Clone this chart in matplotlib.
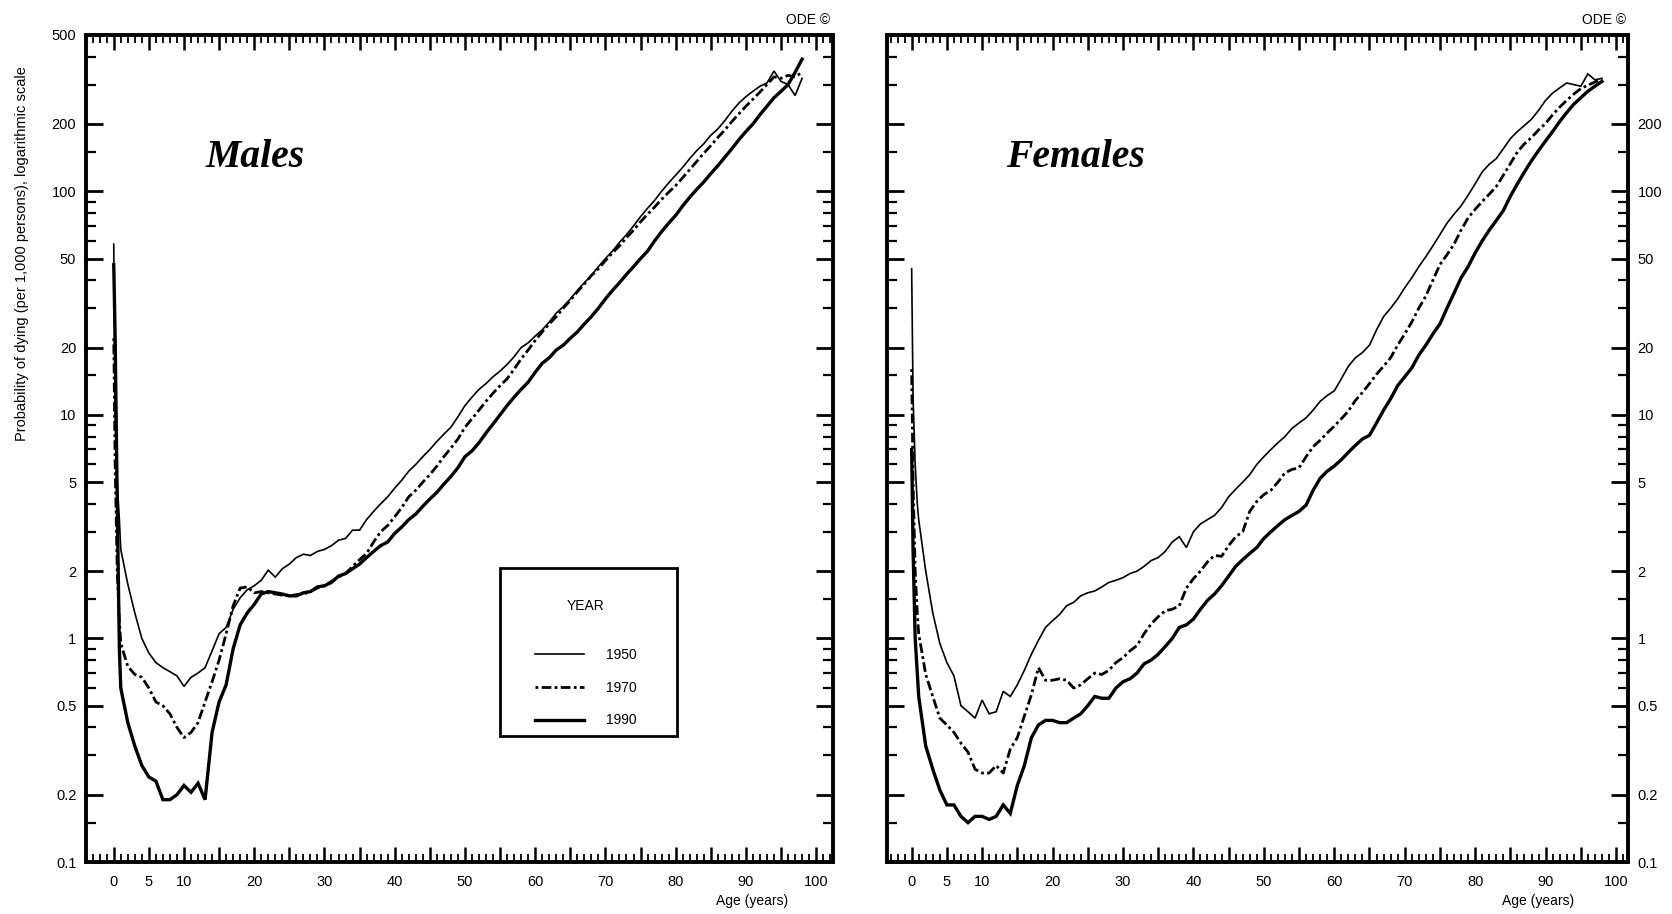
import matplotlib
matplotlib.use('Agg')
import matplotlib.pyplot as plt
from matplotlib.patches import Rectangle
from matplotlib.ticker import FixedLocator, FixedFormatter, NullFormatter

plt.rcParams['font.family'] = ['Liberation Sans', 'DejaVu Sans']

# idades: primeiros meses e depois anos completos
ages = [0, 0.2, 0.5, 0.8] + list(range(1, 99))

# Males, probabilidade de morrer por 1000
male_1950 = [58, 10, 5, 3.4,
             2.5, 1.75, 1.3, 1.0, 0.86, 0.78, 0.74, 0.71, 0.68, 0.61,
             0.67, 0.70, 0.74, 0.88, 1.05, 1.12, 1.35, 1.52, 1.65, 1.72,
             1.82, 2.02, 1.88, 2.05, 2.15, 2.3, 2.38, 2.35, 2.45, 2.5,
             2.6, 2.75, 2.8, 3.05, 3.05, 3.4, 3.7, 4.0, 4.3, 4.7,
             5.1, 5.6, 6.0, 6.5, 7.0, 7.6, 8.2, 8.8, 9.8, 11.0,
             12.0, 13.0, 13.8, 14.8, 15.7, 16.8, 18.2, 20.0, 21.0, 22.5,
             24.0, 26.0, 28.5, 30.5, 33.0, 36.0, 39.0, 42.0, 46.0, 50.0,
             54.0, 59.0, 64.0, 70.0, 77.0, 84.0, 91.0, 100.0, 109.0, 118.0,
             128.0, 140.0, 152.0, 163.0, 178.0, 190.0, 207.0, 228.0, 248.0, 265.0,
             280.0, 295.0, 305.0, 345.0, 310.0, 300.0, 268.0, 320.0]
male_1970 = [22, 6, 2, 1.2,
             0.95, 0.75, 0.69, 0.67, 0.6, 0.52, 0.50, 0.46, 0.40, 0.36,
             0.38, 0.42, 0.52, 0.64, 0.8, 1.05, 1.4, 1.68, 1.7, 1.6,
             1.62, 1.6, 1.58, 1.56, 1.55, 1.57, 1.58, 1.62, 1.68, 1.72,
             1.8, 1.88, 1.95, 2.1, 2.25, 2.4, 2.7, 3.0, 3.2, 3.5,
             3.85, 4.3, 4.6, 5.0, 5.4, 5.9, 6.5, 7.1, 7.8, 8.8,
             9.6, 10.5, 11.5, 12.5, 13.5, 14.5, 16.0, 17.8, 19.5, 21.5,
             23.5, 25.5, 27.5, 30.0, 32.5, 35.5, 38.5, 42.0, 45.0, 49.0,
             53.0, 57.0, 62.0, 67.0, 73.0, 79.0, 85.0, 92.0, 99.0, 106.0,
             115.0, 125.0, 136.0, 148.0, 160.0, 174.0, 188.0, 205.0, 222.0, 240.0,
             258.0, 278.0, 300.0, 325.0, 320.0, 330.0, 325.0, 340.0]
male_1990 = [47, 22, 4, 0.9,
             0.6, 0.42, 0.33, 0.27, 0.24, 0.23, 0.19, 0.19, 0.2, 0.22,
             0.205, 0.225, 0.19, 0.38, 0.52, 0.62, 0.9, 1.15, 1.3, 1.42,
             1.58, 1.62, 1.6, 1.58, 1.55, 1.55, 1.6, 1.62, 1.7, 1.72,
             1.78, 1.9, 1.95, 2.05, 2.15, 2.3, 2.45, 2.6, 2.7, 2.95,
             3.15, 3.4, 3.6, 3.9, 4.2, 4.5, 4.9, 5.3, 5.8, 6.5,
             6.9, 7.5, 8.3, 9.1, 10.0, 11.0, 12.0, 13.0, 14.0, 15.5,
             17.0, 18.0, 19.5, 20.5, 22.0, 23.5, 25.5, 27.5, 30.0, 33.0,
             36.0, 39.0, 42.5, 46.0, 50.0, 54.0, 60.0, 66.0, 72.0, 78.0,
             86.0, 94.0, 102.0, 110.0, 120.0, 130.0, 142.0, 155.0, 170.0, 185.0,
             200.0, 220.0, 240.0, 262.0, 280.0, 300.0, 340.0, 390.0]

# Females
female_1950 = [45, 12, 6, 4,
               3.4, 2.0, 1.3, 0.95, 0.78, 0.68, 0.5, 0.47, 0.44, 0.53,
               0.46, 0.47, 0.58, 0.55, 0.62, 0.72, 0.85, 0.98, 1.12, 1.2,
               1.28, 1.4, 1.45, 1.55, 1.6, 1.63, 1.7, 1.78, 1.82, 1.87,
               1.95, 2.0, 2.1, 2.23, 2.3, 2.45, 2.7, 2.85, 2.55, 3.0,
               3.25, 3.4, 3.55, 3.85, 4.3, 4.65, 5.0, 5.4, 6.0, 6.5,
               7.0, 7.5, 8.0, 8.7, 9.2, 9.7, 10.5, 11.5, 12.2, 12.8,
               14.5, 16.5, 18.0, 19.0, 20.5, 24.0, 27.5, 30.0, 33.0, 37.0,
               41.0, 46.0, 51.0, 57.0, 64.0, 72.0, 79.0, 86.0, 96.0, 108.0,
               122.0, 132.0, 140.0, 155.0, 172.0, 185.0, 197.0, 210.0, 230.0, 255.0,
               275.0, 290.0, 305.0, 300.0, 295.0, 335.0, 315.0, 320.0]
female_1970 = [16, 5, 2, 1.3,
               1.05, 0.69, 0.55, 0.44, 0.41, 0.38, 0.34, 0.31, 0.26, 0.25,
               0.25, 0.27, 0.25, 0.32, 0.36, 0.45, 0.56, 0.74, 0.65, 0.65,
               0.66, 0.65, 0.6, 0.62, 0.66, 0.7, 0.69, 0.72, 0.78, 0.82,
               0.88, 0.93, 1.05, 1.16, 1.25, 1.33, 1.35, 1.4, 1.68, 1.85,
               2.0, 2.2, 2.35, 2.33, 2.6, 2.85, 3.0, 3.7, 4.1, 4.4,
               4.6, 5.0, 5.5, 5.7, 5.8, 6.5, 7.2, 7.7, 8.3, 8.9,
               9.6, 10.4, 11.6, 12.6, 13.8, 15.2, 16.5, 18.0, 20.5, 23.0,
               26.0, 30.0, 34.0, 40.0, 47.0, 52.0, 58.0, 67.0, 76.0, 83.0,
               90.0, 97.0, 105.0, 118.0, 133.0, 150.0, 163.0, 174.0, 188.0, 201.0,
               220.0, 238.0, 255.0, 272.0, 288.0, 298.0, 308.0, 318.0]
female_1990 = [7, 2.5, 1.0, 0.7,
               0.55, 0.33, 0.26, 0.21, 0.18, 0.18, 0.16, 0.15, 0.16, 0.16,
               0.155, 0.16, 0.18, 0.165, 0.22, 0.27, 0.36, 0.41, 0.43, 0.43,
               0.42, 0.42, 0.44, 0.46, 0.5, 0.55, 0.54, 0.54, 0.6, 0.64,
               0.66, 0.7, 0.77, 0.8, 0.85, 0.92, 1.0, 1.12, 1.15, 1.22,
               1.35, 1.48, 1.58, 1.72, 1.9, 2.1, 2.25, 2.4, 2.55, 2.8,
               3.0, 3.2, 3.4, 3.55, 3.7, 3.95, 4.6, 5.2, 5.6, 5.9,
               6.3, 6.8, 7.3, 7.8, 8.1, 9.2, 10.5, 11.8, 13.5, 14.8,
               16.2, 18.5, 20.5, 23.0, 25.5, 30.0, 35.0, 41.0, 46.0, 53.0,
               60.0, 67.0, 74.0, 82.0, 95.0, 108.0, 122.0, 137.0, 152.0, 168.0,
               185.0, 205.0, 225.0, 245.0, 262.0, 280.0, 295.0, 310.0]

years = ['1950', '1970', '1990']

y_major = [0.1, 0.2, 0.5, 1, 2, 5, 10, 20, 50, 100, 200, 500]
y_major_lbl = ['0.1', '0.2', '0.5', '1', '2', '5', '10', '20', '50', '100', '200', '500']
y_minor = [0.15, 0.3, 0.4, 0.6, 0.7, 0.8, 0.9,
           1.5, 3, 4, 6, 7, 8, 9,
           15, 30, 40, 60, 70, 80, 90,
           150, 300, 400]
x_major = list(range(0, 101, 5))
x_major_lbl = ['0', '5', '10', '', '20', '', '30', '', '40', '', '50', '',
               '60', '', '70', '', '80', '', '90', '', '100']
x_minor = list(range(-3, 103))

estilos = [dict(color='black', lw=1.2, ls='-'),
           dict(color='black', lw=2.0, ls=(0, (1, 1.2, 3.5, 1.2))),
           dict(color='black', lw=2.4, ls='-')]

fig = plt.figure(figsize=(16.72, 9.14), dpi=100)
W, H = 1672, 914
ax1 = fig.add_axes([86 / W, 1 - 862 / H, (833 - 86) / W, (862 - 35) / H])
ax2 = fig.add_axes([887 / W, 1 - 862 / H, (1628 - 887) / W, (862 - 35) / H])


def formatar(ax, lado, xlim):
    ax.set_yscale('log')
    ax.set_ylim(0.1, 500)
    ax.set_xlim(*xlim)
    ax.yaxis.set_major_locator(FixedLocator(y_major))
    ax.yaxis.set_minor_locator(FixedLocator(y_minor))
    ax.yaxis.set_minor_formatter(NullFormatter())
    lbl = list(y_major_lbl)
    if lado == 'right':
        lbl[-1] = ''
    ax.yaxis.set_major_formatter(FixedFormatter(lbl))
    ax.xaxis.set_major_locator(FixedLocator(x_major))
    ax.xaxis.set_major_formatter(FixedFormatter(x_major_lbl))
    ax.xaxis.set_minor_locator(FixedLocator(x_minor))
    for s in ax.spines.values():
        s.set_linewidth(2.8)
    ax.tick_params(which='both', direction='in', top=True, bottom=True,
                   left=True, right=True, color='black')
    ax.tick_params(axis='y', which='major', length=12, width=2.0, labelsize=10.5, pad=7)
    ax.tick_params(axis='y', which='minor', length=7, width=1.6)
    ax.tick_params(axis='x', which='major', length=11, width=1.8, labelsize=10.5, pad=9)
    ax.tick_params(axis='x', which='minor', length=6, width=1.3)
    if lado == 'right':
        ax.tick_params(axis='y', labelleft=False, labelright=True)


series = [(ax1, [male_1950, male_1970, male_1990], 'Males'),
          (ax2, [female_1950, female_1970, female_1990], 'Females')]

for ax, dados, titulo in series:
    for ano, vals, st in zip(years, dados, estilos):
        ax.plot(ages, vals, label=ano, solid_joinstyle='miter', **st)
    ax.text(0.16, 0.852, titulo, transform=ax.transAxes, fontsize=28.5,
            family=['Liberation Serif', 'DejaVu Serif'], style='italic',
            weight='bold', ha='left', va='center')

formatar(ax1, 'left', (-3.95, 102.4))
formatar(ax2, 'right', (-3.5, 101.7))

# legenda sem moldura + moldura desenhada a parte
leg = ax1.legend(title='YEAR\n', loc='upper center', bbox_to_anchor=(0.669, 0.318),
                 borderaxespad=0, borderpad=0, frameon=False,
                 fontsize=10, title_fontsize=10, labelspacing=1.35,
                 handlelength=3.5, handletextpad=1.6)
ax1.add_patch(Rectangle((0.5542, 0.1524), 0.237, 0.2031, transform=ax1.transAxes,
                        fill=False, lw=2.0, ec='black', zorder=5))

fig.text(0.013, 0.723, 'Probability of dying (per 1,000 persons), logarithmic scale',
         rotation=90, ha='center', va='center', fontsize=10.5)
fig.text(830 / W, 1 - 20 / H, 'ODE \u00a9', ha='right', va='center', fontsize=10)
fig.text(1626 / W, 1 - 20 / H, 'ODE \u00a9', ha='right', va='center', fontsize=10)
fig.text(752 / W, 1 - 901 / H, 'Age (years)', ha='center', va='center', fontsize=10)
fig.text(1538 / W, 1 - 901 / H, 'Age (years)', ha='center', va='center', fontsize=10)

fig.savefig('out.png', dpi=100, facecolor='white')
